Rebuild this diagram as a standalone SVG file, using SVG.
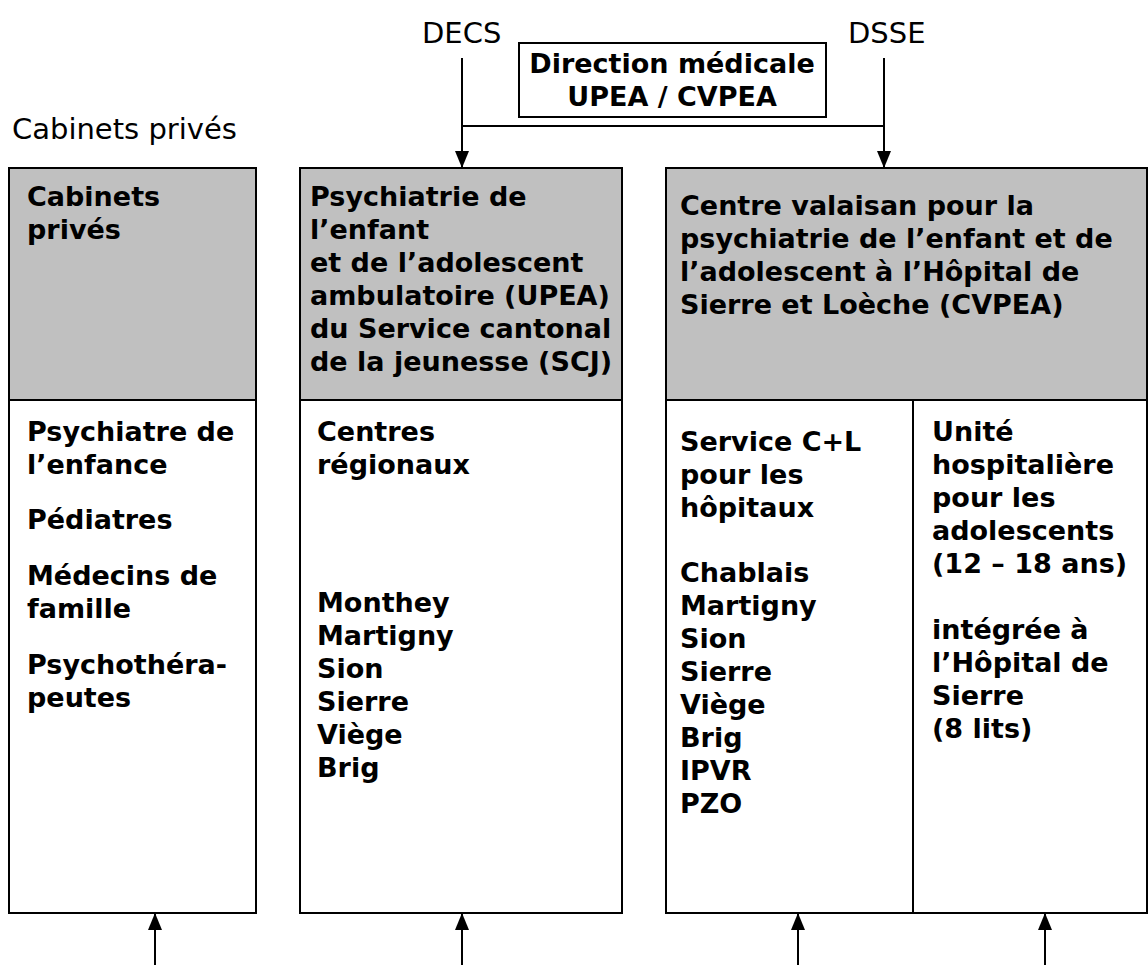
<svg xmlns="http://www.w3.org/2000/svg" width="1148" height="965" viewBox="0 0 1148 965">
<style>
.t{font-family:"DejaVu Sans","Liberation Sans",sans-serif;font-size:29px;fill:#000}
.b{font-family:"DejaVu Sans","Liberation Sans",sans-serif;font-size:27px;font-weight:bold;fill:#000}
.box{fill:#fff;stroke:#000;stroke-width:2}
.hd{fill:#c0c0c0;stroke:#000;stroke-width:2}
.ln{stroke:#000;stroke-width:2;fill:none}
</style>
<defs>
<marker id="ah" markerUnits="userSpaceOnUse" markerWidth="18" markerHeight="14" refX="17" refY="7" orient="auto" viewBox="0 0 18 14">
<path d="M0,0 L17,7 L0,14 Z" fill="#000"/>
</marker>
</defs>
<rect width="1148" height="965" fill="#fff"/>
<g id="decs"><text class="t" x="422" y="43">DECS</text></g>
<g id="dsse"><text class="t" x="848" y="43">DSSE</text></g>
<g id="direction">
<rect x="519" y="43" width="307" height="74" class="box"/>
<text class="b" x="672" y="73" text-anchor="middle">Direction médicale</text>
<text class="b" x="672" y="106" text-anchor="middle">UPEA / CVPEA</text>
</g>
<g id="label-cabinets"><text class="t" x="12" y="139">Cabinets privés</text></g>
<g id="cabinets">
<rect x="9" y="168" width="247" height="745" class="box"/>
<rect x="9" y="168" width="247" height="232" class="hd"/>
<text class="b" x="27" y="206">Cabinets</text>
<text class="b" x="27" y="239">privés</text>
<text class="b" x="27" y="441">Psychiatre de</text>
<text class="b" x="27" y="474">l’enfance</text>
<text class="b" x="27" y="529">Pédiatres</text>
<text class="b" x="27" y="585">Médecins de</text>
<text class="b" x="27" y="618">famille</text>
<text class="b" x="27" y="674">Psychothéra-</text>
<text class="b" x="27" y="707">peutes</text>
</g>
<g id="upea">
<rect x="300" y="168" width="322" height="745" class="box"/>
<rect x="300" y="168" width="322" height="232" class="hd"/>
<text class="b" x="310" y="206">Psychiatrie de</text>
<text class="b" x="310" y="239">l’enfant</text>
<text class="b" x="310" y="272">et de l’adolescent</text>
<text class="b" x="310" y="305">ambulatoire (UPEA)</text>
<text class="b" x="310" y="338">du Service cantonal</text>
<text class="b" x="310" y="371">de la jeunesse (SCJ)</text>
<text class="b" x="317" y="441">Centres</text>
<text class="b" x="317" y="474">régionaux</text>
<text class="b" x="317" y="612">Monthey</text>
<text class="b" x="317" y="645">Martigny</text>
<text class="b" x="317" y="678">Sion</text>
<text class="b" x="317" y="711">Sierre</text>
<text class="b" x="317" y="744">Viège</text>
<text class="b" x="317" y="777">Brig</text>
</g>
<g id="cvpea">
<rect x="666" y="168" width="481" height="745" class="box"/>
<rect x="666" y="168" width="481" height="232" class="hd"/>
<line x1="913" y1="400" x2="913" y2="913" class="ln"/>
<text class="b" x="680" y="215">Centre valaisan pour la</text>
<text class="b" x="680" y="248">psychiatrie de l’enfant et de</text>
<text class="b" x="680" y="281">l’adolescent à l’Hôpital de</text>
<text class="b" x="680" y="314">Sierre et Loèche (CVPEA)</text>
<text class="b" x="680" y="451">Service C+L</text>
<text class="b" x="680" y="484">pour les</text>
<text class="b" x="680" y="517">hôpitaux</text>
<text class="b" x="680" y="582">Chablais</text>
<text class="b" x="680" y="615">Martigny</text>
<text class="b" x="680" y="648">Sion</text>
<text class="b" x="680" y="681">Sierre</text>
<text class="b" x="680" y="714">Viège</text>
<text class="b" x="680" y="747">Brig</text>
<text class="b" x="680" y="780">IPVR</text>
<text class="b" x="680" y="813">PZO</text>
<text class="b" x="932" y="441">Unité</text>
<text class="b" x="932" y="474">hospitalière</text>
<text class="b" x="932" y="507">pour les</text>
<text class="b" x="932" y="540">adolescents</text>
<text class="b" x="932" y="573">(12 – 18 ans)</text>
<text class="b" x="932" y="639">intégrée à</text>
<text class="b" x="932" y="672">l’Hôpital de</text>
<text class="b" x="932" y="705">Sierre</text>
<text class="b" x="932" y="738">(8 lits)</text>
</g>
<g id="connectors">
<line x1="462" y1="58" x2="462" y2="168" class="ln" marker-end="url(#ah)"/>
<line x1="884" y1="58" x2="884" y2="168" class="ln" marker-end="url(#ah)"/>
<line x1="462" y1="126" x2="884" y2="126" class="ln"/>
<line x1="155" y1="965" x2="155" y2="913" class="ln" marker-end="url(#ah)"/>
<line x1="462" y1="965" x2="462" y2="913" class="ln" marker-end="url(#ah)"/>
<line x1="798" y1="965" x2="798" y2="913" class="ln" marker-end="url(#ah)"/>
<line x1="1045" y1="965" x2="1045" y2="913" class="ln" marker-end="url(#ah)"/>
</g>
</svg>
